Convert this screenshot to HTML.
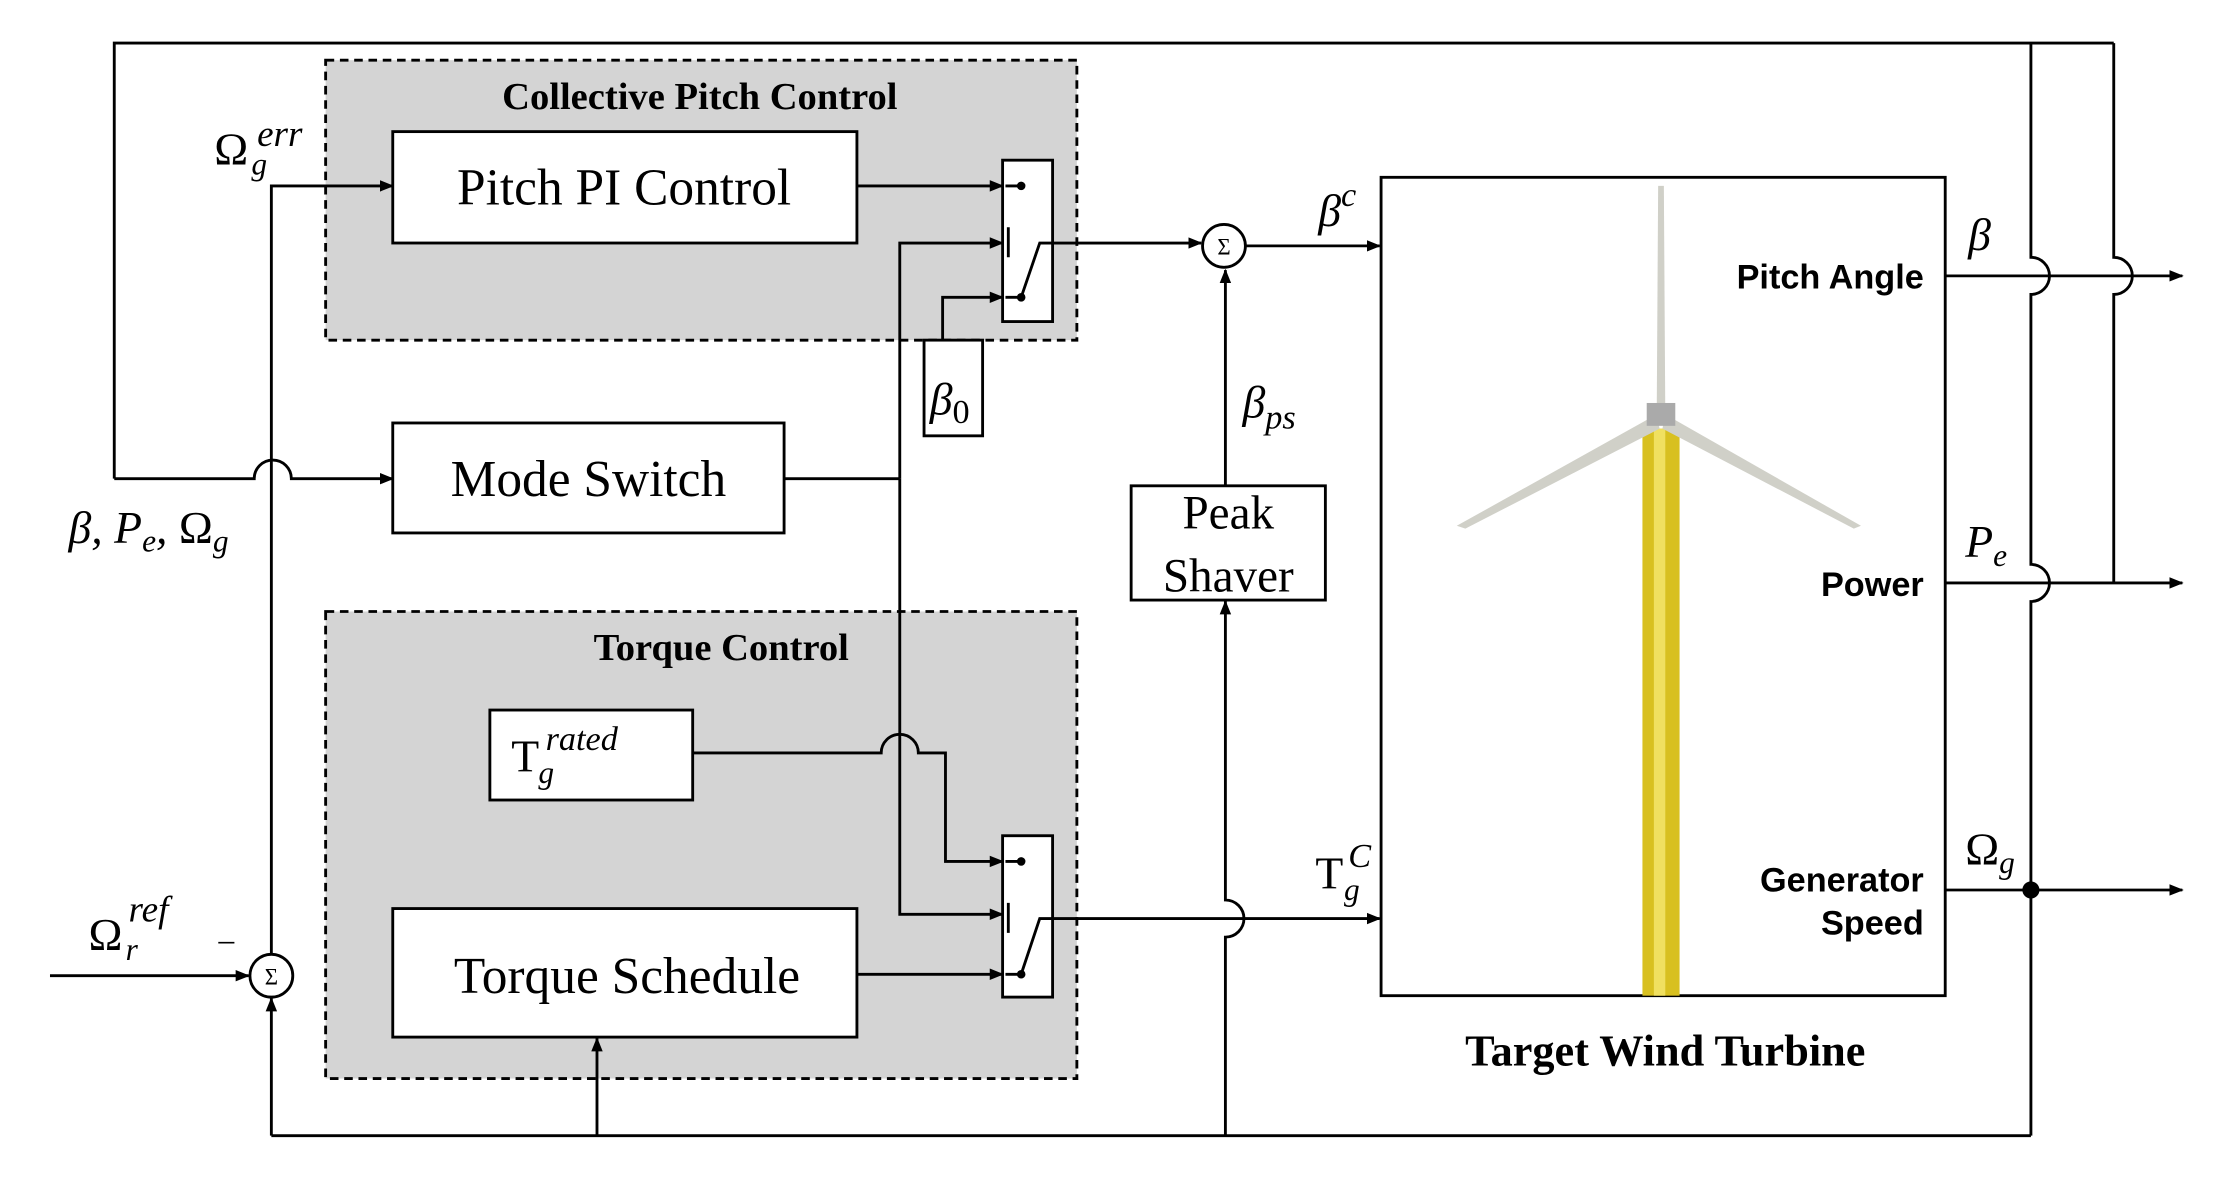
<!DOCTYPE html>
<html><head><meta charset="utf-8"><style>
html,body{margin:0;padding:0;background:#fff;}
svg{display:block;}
.serif{font-family:"Liberation Serif",serif;}
.sans{font-family:"Liberation Sans",sans-serif;font-weight:bold;}
</style></head><body>
<svg width="2238" height="1183" viewBox="0 0 1567 828" xmlns="http://www.w3.org/2000/svg">
<defs>
<marker id="a" markerWidth="10" markerHeight="10" refX="9" refY="5" orient="auto" markerUnits="userSpaceOnUse">
<path d="M0,1 L10,5 L0,9 Z" fill="#000"/></marker>
</defs>
<g fill="none" stroke="#000" stroke-width="2">
<rect x="228" y="42" width="526" height="196" fill="#d4d4d4" stroke-dasharray="6,4"/>
<rect x="228" y="428" width="526" height="327" fill="#d4d4d4" stroke-dasharray="6,4"/>
<rect x="275" y="92" width="325" height="78" fill="#fff"/>
<rect x="275" y="296" width="274" height="77" fill="#fff"/>
<rect x="343" y="497" width="142" height="63" fill="#fff"/>
<rect x="275" y="636" width="325" height="90" fill="#fff"/>
<rect x="647" y="238" width="41" height="67" fill="#fff"/>
<rect x="792" y="340" width="136" height="80" fill="#fff"/>
<rect x="967" y="124" width="395" height="573" fill="#fff"/>
<rect x="702" y="112" width="35" height="113" fill="#fff"/>
<rect x="702" y="585" width="35" height="113" fill="#fff"/>
<path d="M80,335 L80,30 L1480,30"/>
<path d="M80,335 L178,335 A13,13 0 0 1 204,335 L275,335" marker-end="url(#a)"/>
<path d="M190,795 L190,699" marker-end="url(#a)"/>
<path d="M190,668 L190,130 L275,130" marker-end="url(#a)"/>
<circle cx="190" cy="683" r="15" fill="#fff"/>
<path d="M35,683 L174,683" marker-end="url(#a)"/>
<path d="M190,795 L1422,795"/>
<path d="M418,795 L418,727" marker-end="url(#a)"/>
<path d="M858,795 L858,656 A13,13 0 0 0 858,630 L858,421" marker-end="url(#a)"/>
<path d="M858,340 L858,189" marker-end="url(#a)"/>
<path d="M600,130 L702,130" marker-end="url(#a)"/>
<path d="M549,335 L630,335"/>
<path d="M630,335 L630,170 L702,170" marker-end="url(#a)"/>
<path d="M630,335 L630,640 L702,640" marker-end="url(#a)"/>
<path d="M660,238 L660,208 L702,208" marker-end="url(#a)"/>
<path d="M737,170 L841,170" marker-end="url(#a)"/>
<circle cx="857" cy="172" r="15" fill="#fff"/>
<path d="M872,172 L966,172" marker-end="url(#a)"/>
<path d="M485,527 L617,527 A13,13 0 0 1 643,527 L662,527 L662,603 L702,603" marker-end="url(#a)"/>
<path d="M600,682 L702,682" marker-end="url(#a)"/>
<path d="M737,643 L966,643" marker-end="url(#a)"/>
<path d="M704,130 L715,130 M706,159 L706,180 M704,208 L715,208 M715,208 L728,170 L737,170"/>
<path d="M704,603 L715,603 M706,632 L706,653 M704,682 L715,682 M715,682 L728,643 L737,643"/>
<path d="M1362,193 L1528,193" marker-end="url(#a)"/>
<path d="M1362,408 L1528,408" marker-end="url(#a)"/>
<path d="M1362,623 L1528,623" marker-end="url(#a)"/>
<path d="M1422,30 L1422,180 A13,13 0 0 1 1422,206 L1422,395 A13,13 0 0 1 1422,421 L1422,795"/>
<path d="M1480,30 L1480,180 A13,13 0 0 1 1480,206 L1480,408"/>
</g>
<g fill="#000">
<circle cx="715" cy="130" r="3"/><circle cx="715" cy="208" r="3"/>
<circle cx="715" cy="603" r="3"/><circle cx="715" cy="682" r="3"/>
<circle cx="1422" cy="623" r="6"/>
</g>
<rect x="1150" y="300" width="26" height="397" fill="#d8c020"/>
<rect x="1158" y="300" width="8" height="397" fill="#f0e060"/>
<path d="M1160,290 L1020,368 L1026,370 L1162,300 Z" fill="#d0d0c8"/>
<path d="M1166,290 L1303,368 L1298,370 L1164,300 Z" fill="#d0d0c8"/>
<path d="M1160,290 L1161,130 L1165,130 L1166,290 Z" fill="#d0d0c8"/>
<rect x="1153" y="282" width="20" height="16" fill="#aaa"/>
<g class="serif" font-size="36" text-anchor="middle">
<text x="437" y="143">Pitch PI Control</text>
<text x="412" y="347">Mode Switch</text>
<text x="439" y="695">Torque Schedule</text>
<text x="860" y="370" font-size="33">Peak</text>
<text x="860" y="414" font-size="33">Shaver</text>
</g>
<g class="serif" font-weight="bold" text-anchor="middle">
<text x="490" y="76" font-size="27">Collective Pitch Control</text>
<text x="505" y="462" font-size="27">Torque  Control</text>
<text x="1166" y="746" font-size="31">Target Wind Turbine</text>
</g>
<g class="sans" font-size="24" text-anchor="end">
<text x="1347" y="202">Pitch Angle</text>
<text x="1347" y="417">Power</text>
<text x="1347" y="624">Generator</text>
<text x="1347" y="654">Speed</text>
</g>
<g class="serif" font-size="32" font-style="italic">
<text x="150" y="115" font-style="normal">Ω</text>
<text x="176" y="122" font-size="22">g</text>
<text x="180" y="102" font-size="26">err</text>
<text x="48" y="380">β, P<tspan font-size="22" dy="6">e</tspan><tspan dy="-6">, </tspan><tspan font-style="normal">Ω</tspan><tspan font-size="22" dy="6">g</tspan></text>
<text x="62" y="665" font-style="normal">Ω</text>
<text x="88" y="672" font-size="22">r</text>
<text x="90" y="645" font-size="26">ref</text>
<text x="153" y="665" font-style="normal" font-size="22">–</text>
<text x="651" y="290">β<tspan font-size="24" font-style="normal" dy="6">0</tspan></text>
<text x="923" y="158">β<tspan font-size="24" dy="-14">c</tspan></text>
<text x="870" y="292">β<tspan font-size="24" dy="8">ps</tspan></text>
<text x="921" y="622" font-style="normal">T</text>
<text x="941" y="630" font-size="22">g</text>
<text x="944" y="607" font-size="24">C</text>
<text x="358" y="540" font-style="normal">T</text>
<text x="377" y="548" font-size="22">g</text>
<text x="382" y="525" font-size="24">rated</text>
<text x="1378" y="175">β</text>
<text x="1376" y="390">P<tspan font-size="22" dy="6">e</tspan></text>
<text x="1376" y="605" font-style="normal">Ω<tspan font-style="italic" font-size="22" dy="6">g</tspan></text>
</g>
<g class="serif" font-size="16" text-anchor="middle">
<text x="190" y="689">Σ</text><text x="857" y="178">Σ</text>
</g>
</svg>
</body></html>
